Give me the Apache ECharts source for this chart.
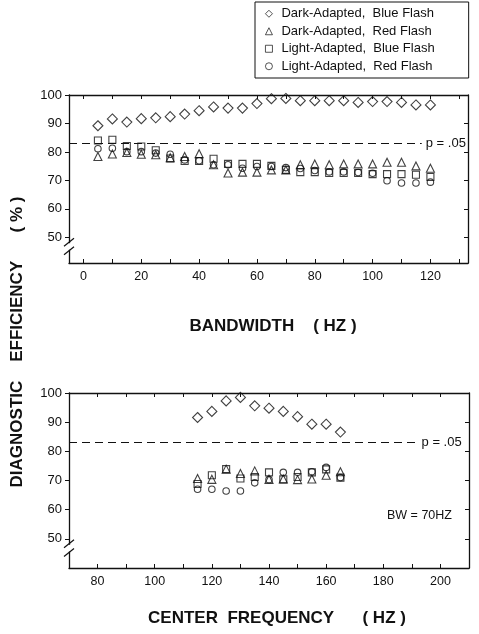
<!DOCTYPE html>
<html>
<head>
<meta charset="utf-8">
<script src="https://cdn.jsdelivr.net/npm/echarts@6/dist/echarts.min.js"></script>
<style>
  html, body { margin: 0; padding: 0; background: #fff; }
  #chart { width: 479px; height: 634px; }
</style>
</head>
<body>
<div id="chart"></div>
<script>
// top panel: efficiency vs bandwidth
const bandwidth = [5, 10, 15, 20, 25, 30, 35, 40, 45, 50, 55, 60, 65, 70, 75, 80, 85, 90, 95, 100, 105, 110, 115, 120];
const bwDarkBlue = [89.2, 91.6, 90.5, 91.7, 92.0, 92.4, 93.3, 94.5, 95.8, 95.4, 95.4, 97.0, 98.7, 98.8, 98.0, 98.0, 98.0, 98.0, 97.4, 97.7, 97.7, 97.4, 96.5, 96.5];
const bwDarkRed = [78.4, 79.3, 79.8, 79.2, 79.0, 78.0, 78.4, 79.4, 75.5, 72.6, 72.9, 72.9, 73.7, 73.7, 75.5, 75.8, 75.5, 75.8, 75.8, 75.8, 76.4, 76.4, 75.1, 74.3];
const bwLightBlue = [84.0, 84.3, 82.1, 81.9, 80.6, 77.7, 76.8, 76.8, 77.6, 75.8, 75.8, 75.8, 75.1, 73.7, 72.9, 72.9, 72.6, 72.6, 72.6, 72.2, 72.2, 72.2, 72.0, 71.2];
const bwLightRed = [81.1, 81.3, 80.1, 80.1, 79.6, 79.2, 77.2, 76.9, 75.5, 75.5, 74.3, 74.9, 74.9, 74.5, 74.2, 73.5, 73.0, 73.0, 72.8, 72.5, 69.9, 69.1, 69.1, 69.4];

// bottom panel: efficiency vs center frequency (BW = 70 Hz)
const centerFreq = [115, 120, 125, 130, 135, 140, 145, 150, 155, 160, 165];
const cfDarkBlue = [91.6, 93.7, 97.3, 98.5, 95.6, 94.8, 93.7, 91.9, 89.3, 89.3, 86.6];
const cfDarkRed = [70.7, 70.4, 73.9, 72.4, 73.3, 70.4, 70.5, 70.3, 70.5, 71.8, 73.0];
const cfLightBlue = [68.8, 71.8, 73.9, 70.7, 71.2, 72.8, 70.4, 71.2, 72.8, 73.8, 71.0];
const cfLightRed = [67.0, 67.0, 66.4, 66.4, 69.2, 70.3, 72.8, 72.8, 73.0, 74.5, 71.0];

// ticks
const bwLabels = [0, 20, 40, 60, 80, 100, 120];
const bwTicks = [0, 10, 20, 30, 40, 50, 60, 70, 80, 90, 100, 110, 120, 130];
const cfLabels = [80, 100, 120, 140, 160, 180, 200];
const cfTicks = [80, 90, 100, 110, 120, 130, 140, 150, 160, 170, 180, 190, 200];
const effLabels = [50, 60, 70, 80, 90, 100];
const pLevel = 83;

const names = ['Dark-Adapted,  Blue Flash', 'Dark-Adapted,  Red Flash', 'Light-Adapted,  Blue Flash', 'Light-Adapted,  Red Flash'];
const symbols = ['diamond', 'triangle', 'rect', 'circle'];
const sizes = [10, 8, 7, 6.5];

const ink = '#111';
const font = 'Liberation Sans, Arial, Helvetica, sans-serif';

const chart = echarts.init(document.getElementById('chart'));

function makeX(grid, min, max, labels, ticks, bottom) {
  return {
    type: 'value', gridIndex: grid, min: min, max: max,
    position: bottom ? 'bottom' : 'top',
    axisLine: { show: true, onZero: false, lineStyle: { color: ink, width: 1.3 } },
    axisTick: { show: true, inside: true, length: 4, customValues: ticks, lineStyle: { color: ink } },
    axisLabel: { show: bottom, customValues: labels, color: ink, fontSize: 12.5, fontFamily: font, margin: 7 },
    splitLine: { show: false }
  };
}

function makeY(grid, min, left) {
  return {
    type: 'value', gridIndex: grid, min: min, max: 100,
    position: left ? 'left' : 'right',
    axisLine: { show: true, onZero: false, lineStyle: { color: ink, width: 1.3 } },
    axisTick: { show: true, inside: !left, length: 4, customValues: effLabels, lineStyle: { color: ink } },
    axisLabel: { show: left, customValues: effLabels, color: ink, fontSize: 13, fontFamily: font, margin: 7 },
    splitLine: { show: false }
  };
}

function makeSeries(i, xs, ys, axis) {
  return {
    name: names[i],
    type: 'scatter',
    xAxisIndex: axis, yAxisIndex: axis,
    symbol: symbols[i],
    symbolSize: sizes[i],
    data: xs.map((x, k) => [x, ys[k]]),
    itemStyle: { color: 'rgba(0,0,0,0)', borderColor: ink, borderWidth: 1.1 },
    emphasis: { disabled: true },
    z: 3
  };
}

function pLine(x0, x1) {
  return {
    silent: true,
    symbol: 'none',
    lineStyle: { color: ink, type: [8, 5], width: 1 },
    label: { show: true, position: 'end', formatter: 'p = .05', color: ink, fontSize: 13, fontFamily: font, distance: 4 },
    data: [[{ coord: [x0, pLevel] }, { coord: [x1, pLevel] }]]
  };
}

const series = [
  makeSeries(0, bandwidth, bwDarkBlue, 0),
  makeSeries(1, bandwidth, bwDarkRed, 0),
  makeSeries(2, bandwidth, bwLightBlue, 0),
  makeSeries(3, bandwidth, bwLightRed, 0),
  makeSeries(0, centerFreq, cfDarkBlue, 2),
  makeSeries(1, centerFreq, cfDarkRed, 2),
  makeSeries(2, centerFreq, cfLightBlue, 2),
  makeSeries(3, centerFreq, cfLightRed, 2)
];
series[0].markLine = pLine(-5, 117);
series[4].markLine = pLine(70, 192);

chart.setOption({
  backgroundColor: '#fff',
  animation: false,
  textStyle: { fontFamily: font },
  legend: {
    orient: 'vertical',
    left: 255, top: 2,
    padding: [4, 34, 4, 10],
    itemGap: 2,
    itemWidth: 7, itemHeight: 7,
    borderColor: ink, borderWidth: 1,
    data: names,
    selectedMode: false,
    itemStyle: { borderWidth: 0.9 },
    textStyle: { color: ink, fontSize: 13, fontFamily: font, lineHeight: 15.5, padding: [0, 0, 0, 4] }
  },
  grid: [
    { left: 69, right: 11, top: 95, height: 168 },
    { left: 69, right: 10, top: 393, height: 175 }
  ],
  xAxis: [
    makeX(0, -5, 133, bwLabels, bwTicks, true),
    makeX(0, -5, 133, bwLabels, bwTicks, false),
    makeX(1, 70, 210, cfLabels, cfTicks, true),
    makeX(1, 70, 210, cfLabels, cfTicks, false)
  ],
  yAxis: [
    makeY(0, 41, true),
    makeY(0, 41, false),
    makeY(1, 40, true),
    makeY(1, 40, false)
  ],
  series: series
});

// titles, note and the axis-break marks on the left axes
function breakMarks(grid, xMin) {
  const a = chart.convertToPixel({ gridIndex: grid }, [xMin, 48.3]);
  const b = chart.convertToPixel({ gridIndex: grid }, [xMin, 45.3]);
  const x = a[0];
  const slash = (y) => ({
    type: 'line', z: 20,
    shape: { x1: x - 5, y1: y + 4, x2: x + 5, y2: y - 4 },
    style: { stroke: ink, lineWidth: 1.3 }
  });
  return [
    { type: 'rect', z: 19, shape: { x: x - 2, y: a[1] + 1, width: 4, height: b[1] - a[1] - 2 }, style: { fill: '#fff' } },
    slash(a[1]),
    slash(b[1])
  ];
}

const titleStyle = { fill: ink, fontSize: 17, fontWeight: 'bold', fontFamily: font, align: 'center', verticalAlign: 'middle' };

chart.setOption({
  graphic: [
    ...breakMarks(0, -5),
    ...breakMarks(1, 70),
    { type: 'text', x: 273, y: 326, style: Object.assign({ text: 'BANDWIDTH    ( HZ )' }, titleStyle) },
    { type: 'text', x: 277, y: 618, style: Object.assign({ text: 'CENTER  FREQUENCY      ( HZ )' }, titleStyle) },
    {
      type: 'text', x: 17, y: 342, rotation: Math.PI / 2,
      style: Object.assign({ text: 'DIAGNOSTIC    EFFICIENCY      ( % )' }, titleStyle)
    },
    { type: 'text', left: 387, top: 509, style: { text: 'BW = 70HZ', fill: ink, fontSize: 12.5, fontFamily: font } }
  ]
});
</script>
</body>
</html>
